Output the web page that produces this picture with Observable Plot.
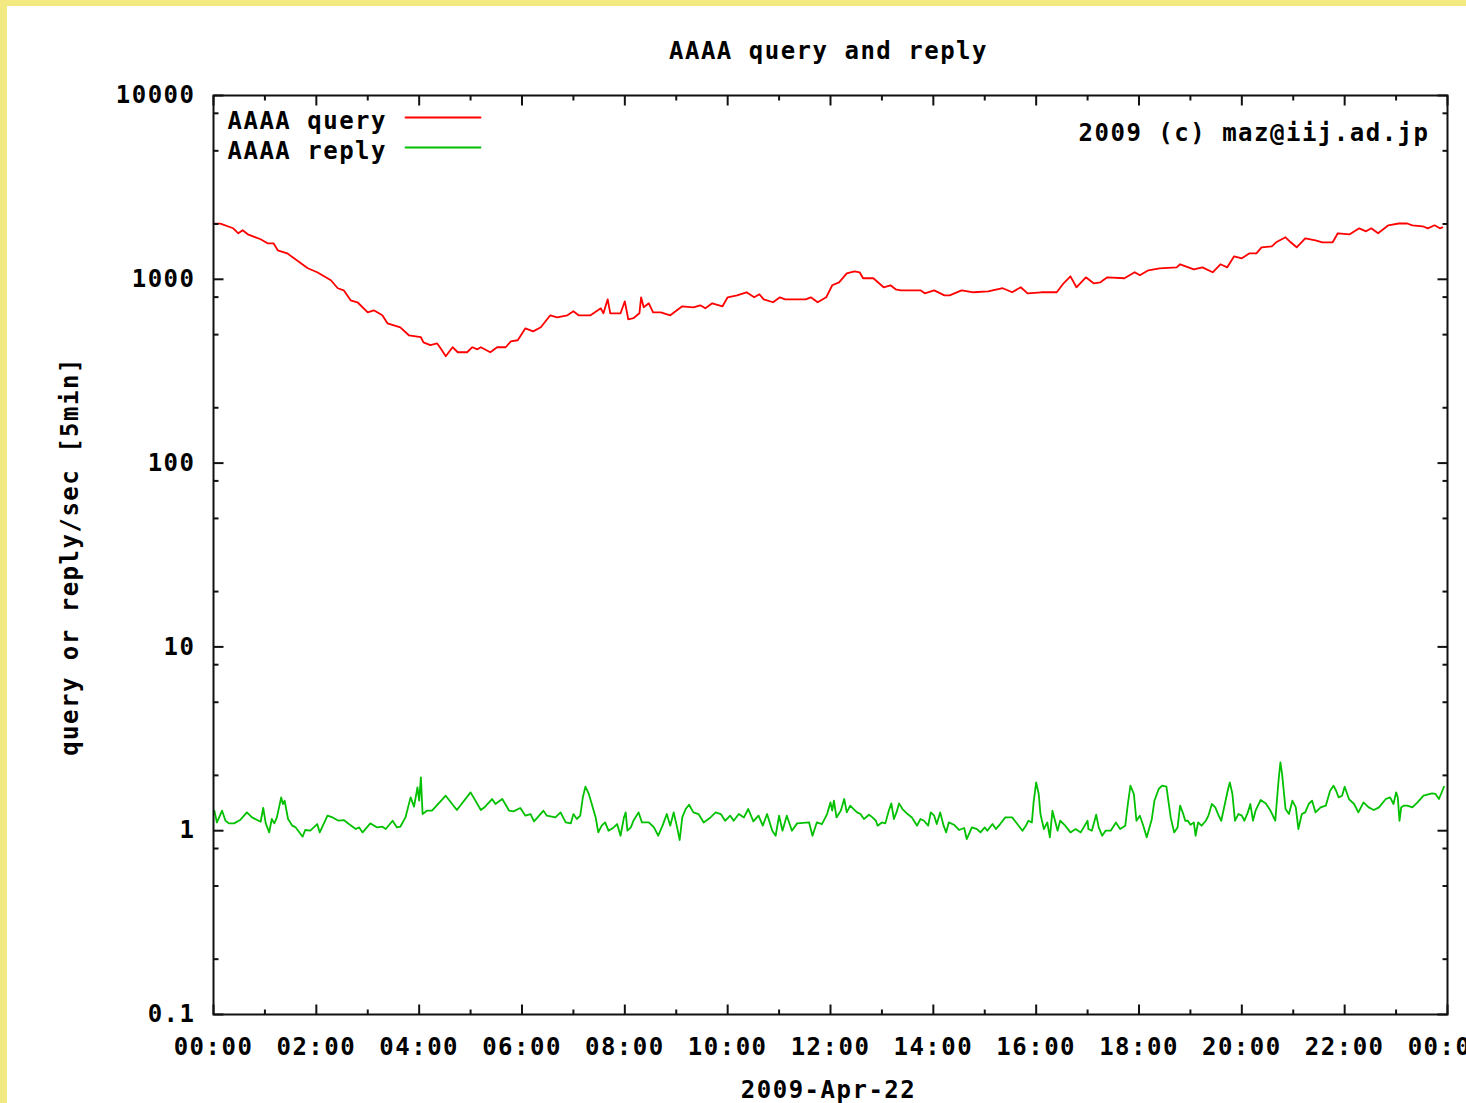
<!DOCTYPE html>
<html>
<head>
<meta charset="utf-8">
<script src="https://cdn.jsdelivr.net/npm/d3@7"></script>
<script src="https://cdn.jsdelivr.net/npm/@observablehq/plot@0.6"></script>
<style>
html, body { margin: 0; padding: 0; width: 1466px; height: 1103px; overflow: hidden; background: #f2ea80; }
#panel { position: absolute; left: 7px; top: 6px; right: 0; bottom: 0; background: #ffffff; }
#chart { position: absolute; left: 0; top: 0; }
</style>
</head>
<body>
<div id="panel"></div>
<div id="chart"></div>
<script>
// ---- texts ----
const titleText = "AAAA query and reply";
const xLabelText = "2009-Apr-22";
const yLabelText = "query or reply/sec [5min]";
const creditText = "2009 (c) maz@iij.ad.jp";
const seriesNames = ["AAAA query", "AAAA reply"];
const seriesColors = ["#ff0000", "#00c000"];

// ---- ticks ----
const xMajorTicks = [0, 120, 240, 360, 480, 600, 720, 840, 960, 1080, 1200, 1320, 1440]; // minutes
const xMinorTicks = [60, 180, 300, 420, 540, 660, 780, 900, 1020, 1140, 1260, 1380];
const yMajorTicks = [0.1, 1, 10, 100, 1000, 10000];
const yMinorTicks = [0.2, 0.5, 0.8, 2, 5, 8, 20, 50, 80, 200, 500, 800, 2000, 5000, 8000];

// ---- AAAA query (minutes since 00:00, queries/sec) ----
const queryMinutes = [0,8,23,29,34,40,55,63,70,75,86,102,110,121,137,145,152,160,168,180,
187,197,203,218,228,242,245,253,261,265,271,279,285,296,302,308,312,323,331,341,
347,355,364,373,382,393,401,413,420,426,440,452,455,460,463,475,480,484,490,497,
499,502,508,513,522,533,547,560,568,574,582,594,600,611,622,631,637,642,653,661,
667,691,697,705,715,722,730,739,748,754,758,770,782,790,796,802,825,830,841,853,
859,873,887,904,921,932,942,950,966,984,992,1000,1007,1018,1027,1035,1043,1063,1075,1081,
1091,1104,1124,1128,1144,1154,1166,1175,1183,1191,1200,1209,1217,1223,1235,1240,1251,1257,1264,1274,
1286,1294,1306,1312,1326,1337,1345,1351,1359,1371,1383,1393,1399,1411,1417,1425,1431,1434];
const queryValues = [2010,2010,1895,1780,1848,1757,1651,1570,1570,1438,1385,1222,1148,1092,988,894,871,769,750,661,
678,637,576,548,496,484,454,438,448,421,381,427,401,401,427,416,427,401,427,427,
460,466,541,521,548,637,621,637,670,637,637,695,653,778,653,653,759,606,614,653,
798,704,740,661,661,637,713,704,722,695,740,713,798,818,850,798,829,778,750,798,
778,778,798,750,798,928,963,1078,1105,1092,1013,1013,905,928,882,871,871,839,871,818,
818,871,850,860,894,850,905,839,850,850,951,1038,905,1025,951,963,1025,1013,1092,1051,
1119,1148,1162,1207,1133,1162,1092,1207,1162,1334,1301,1385,1385,1493,1512,1590,1693,1590,1493,1672,
1630,1590,1590,1780,1757,1894,1824,1894,1780,1967,2012,2012,1967,1943,1894,1967,1894,1918];

// ---- AAAA reply (minutes since 00:00, replies/sec) ----
const replyMinutes = [1,4,10,14,18,24,31,39,45,51,55,58,61,65,68,71,74,79,81,83,
87,92,96,104,107,113,121,124,133,139,146,152,158,166,170,174,183,191,197,201,
209,214,218,224,230,234,238,240,242,244,249,255,271,284,300,312,317,325,329,337,
345,350,358,364,370,374,380,385,389,399,405,411,417,420,424,428,431,434,438,442,
446,449,453,457,461,467,471,475,479,481,483,487,490,496,500,508,514,519,524,529,
533,537,541,544,547,551,555,560,566,572,580,586,592,597,603,607,613,619,624,630,
636,641,646,652,656,660,664,669,675,681,695,699,704,710,716,720,722,724,727,732,
736,739,743,747,751,755,759,765,769,773,775,780,784,788,791,794,797,800,804,810,
815,821,825,829,834,837,841,844,848,852,855,858,864,870,876,879,885,891,895,900,
903,909,913,918,924,932,938,944,948,951,955,957,960,963,965,969,973,976,979,981,
985,988,994,1000,1006,1012,1020,1021,1025,1030,1033,1037,1041,1047,1053,1058,1064,1067,1070,1074,
1077,1081,1085,1089,1095,1098,1103,1107,1112,1114,1117,1121,1125,1128,1131,1134,1137,1140,1144,1146,
1149,1153,1158,1161,1165,1169,1173,1176,1181,1184,1186,1189,1192,1196,1200,1203,1207,1210,1213,1216,
1222,1228,1233,1239,1243,1245,1247,1251,1255,1259,1263,1266,1270,1274,1278,1282,1286,1292,1298,1303,
1307,1310,1313,1317,1320,1325,1331,1336,1342,1348,1354,1360,1368,1373,1377,1380,1382,1384,1386,1389,
1393,1399,1405,1412,1422,1426,1430,1434,1436];
const replyValues = [1.285,1.109,1.285,1.133,1.096,1.096,1.143,1.258,1.181,1.143,1.119,1.329,1.096,0.979,1.158,1.096,1.181,1.518,1.397,1.456,
1.158,1.065,1.042,0.928,1.009,1.0,1.087,0.979,1.207,1.181,1.133,1.143,1.087,1.021,1.042,0.979,1.096,1.042,1.051,1.021,
1.133,1.042,1.051,1.181,1.518,1.351,1.72,1.456,1.95,1.232,1.285,1.285,1.55,1.296,1.616,1.296,1.351,1.487,1.397,1.487,
1.285,1.274,1.329,1.207,1.232,1.124,1.207,1.285,1.207,1.181,1.258,1.109,1.096,1.232,1.158,1.207,1.518,1.735,1.584,1.368,
1.181,0.979,1.065,1.109,1.0,1.042,1.087,0.939,1.181,1.258,1.0,1.042,1.133,1.258,1.109,1.109,1.042,0.939,1.065,1.232,
1.065,1.258,1.042,0.890,1.181,1.312,1.385,1.258,1.232,1.109,1.181,1.258,1.232,1.133,1.207,1.133,1.232,1.181,1.312,1.124,
1.207,1.065,1.232,1.0,0.939,1.207,1.0,1.207,1.0,1.096,1.109,0.939,1.109,1.087,1.232,1.426,1.285,1.456,1.181,1.285,
1.487,1.258,1.368,1.312,1.258,1.232,1.158,1.222,1.181,1.133,1.065,1.109,1.096,1.285,1.408,1.158,1.258,1.408,1.312,1.232,
1.181,1.065,1.158,1.133,1.065,1.258,1.207,1.087,1.258,1.065,0.979,1.109,1.078,1.009,1.034,0.901,1.042,1.021,0.979,1.042,
1.0,1.087,1.021,1.087,1.181,1.181,1.087,1.0,1.065,1.133,1.109,1.426,1.83,1.584,1.232,1.021,1.109,0.92,1.285,1.181,
1.0,1.133,1.065,0.979,1.021,0.979,1.133,1.021,1.0,1.222,1.042,0.939,1.0,1.0,1.109,1.021,1.065,1.397,1.757,1.584,
1.133,1.207,1.065,0.92,1.158,1.456,1.686,1.757,1.735,1.487,1.181,0.979,1.042,1.368,1.258,1.133,1.133,1.078,1.109,0.939,
1.109,1.065,1.133,1.207,1.397,1.34,1.207,1.133,1.456,1.686,1.83,1.584,1.133,1.232,1.207,1.133,1.258,1.397,1.133,1.285,
1.469,1.408,1.296,1.133,1.91,2.35,2.03,1.312,1.232,1.456,1.34,1.021,1.232,1.258,1.397,1.456,1.258,1.34,1.368,1.65,
1.757,1.65,1.518,1.55,1.735,1.487,1.397,1.258,1.426,1.34,1.296,1.34,1.487,1.518,1.397,1.616,1.518,1.133,1.34,1.368,
1.368,1.34,1.426,1.55,1.595,1.584,1.487,1.65,1.735];

const query = queryMinutes.map((m, i) => ({m, v: queryValues[i]}));
const reply = replyMinutes.map((m, i) => ({m, v: replyValues[i]}));

const fmtTime = m => String(Math.floor(m / 60) % 24).padStart(2, "0") + ":" + String(m % 60).padStart(2, "0");
const tickLine = {draw(context, l) { context.moveTo(0, 0); context.lineTo(0, -l); }};
const ink = "#111111";
const tickOpts = {anchor: "start", shape: tickLine, stroke: ink, strokeWidth: 2, strokeLinecap: "butt"};

const chart = Plot.plot({
  width: 1500,
  height: 1103,
  marginLeft: 213,
  marginRight: 53,
  marginTop: 95,
  marginBottom: 89,
  x: {domain: [0, 1440]},
  y: {type: "log", domain: [0.1, 10000]},
  style: {
    background: "transparent",
    maxWidth: "none",
    overflow: "visible",
    color: "#000",
    fontFamily: "'DejaVu Sans Mono', monospace",
    fontSize: "24px",
    fontWeight: "bold",
    letterSpacing: "1.5px"
  },
  marks: [
    Plot.line(query, {x: "m", y: "v", stroke: seriesColors[0], strokeWidth: 1.8}),
    Plot.line(reply, {x: "m", y: "v", stroke: seriesColors[1], strokeWidth: 1.8}),
    Plot.frame({stroke: ink, strokeWidth: 2}),
    Plot.vector(xMajorTicks, {x: d => d, frameAnchor: "bottom", length: 10, ...tickOpts}),
    Plot.vector(xMinorTicks, {x: d => d, frameAnchor: "bottom", length: 5, ...tickOpts}),
    Plot.vector(xMajorTicks, {x: d => d, frameAnchor: "top", rotate: 180, length: 10, ...tickOpts}),
    Plot.vector(xMinorTicks, {x: d => d, frameAnchor: "top", rotate: 180, length: 5, ...tickOpts}),
    Plot.vector(yMajorTicks, {y: d => d, frameAnchor: "left", rotate: 90, length: 10, ...tickOpts}),
    Plot.vector(yMinorTicks, {y: d => d, frameAnchor: "left", rotate: 90, length: 5, ...tickOpts}),
    Plot.vector(yMajorTicks, {y: d => d, frameAnchor: "right", rotate: -90, length: 10, ...tickOpts}),
    Plot.vector(yMinorTicks, {y: d => d, frameAnchor: "right", rotate: -90, length: 5, ...tickOpts}),
    Plot.axisX(xMajorTicks, {tickFormat: fmtTime, tickSize: 0, tickPadding: 23, label: null}),
    Plot.axisY(yMajorTicks, {tickFormat: d => String(d), tickSize: 0, tickPadding: 18, label: null}),
    Plot.text([titleText], {text: d => d, frameAnchor: "top", dx: -2, dy: -44, lineAnchor: "middle"}),
    Plot.text([xLabelText], {text: d => d, frameAnchor: "bottom", dx: -2, dy: 76, lineAnchor: "middle"}),
    Plot.text([yLabelText], {text: d => d, frameAnchor: "left", dx: -143, dy: 1.5, rotate: -90, textAnchor: "middle", lineAnchor: "middle"}),
    Plot.text([creditText], {text: d => d, frameAnchor: "top-right", dx: -18, dy: 38, textAnchor: "end", lineAnchor: "middle"}),
    Plot.text([seriesNames[0]], {text: d => d, frameAnchor: "top-left", dx: 14, dy: 26, textAnchor: "start", lineAnchor: "middle"}),
    Plot.text([seriesNames[1]], {text: d => d, frameAnchor: "top-left", dx: 14, dy: 56, textAnchor: "start", lineAnchor: "middle"}),
    Plot.vector([seriesNames[0]], {frameAnchor: "top-left", dx: 192, dy: 22, rotate: 90, length: 75, anchor: "start", shape: tickLine, stroke: seriesColors[0], strokeWidth: 1.8}),
    Plot.vector([seriesNames[1]], {frameAnchor: "top-left", dx: 192, dy: 52, rotate: 90, length: 75, anchor: "start", shape: tickLine, stroke: seriesColors[1], strokeWidth: 1.8})
  ]
});
document.getElementById("chart").appendChild(chart);
</script>
</body>
</html>
